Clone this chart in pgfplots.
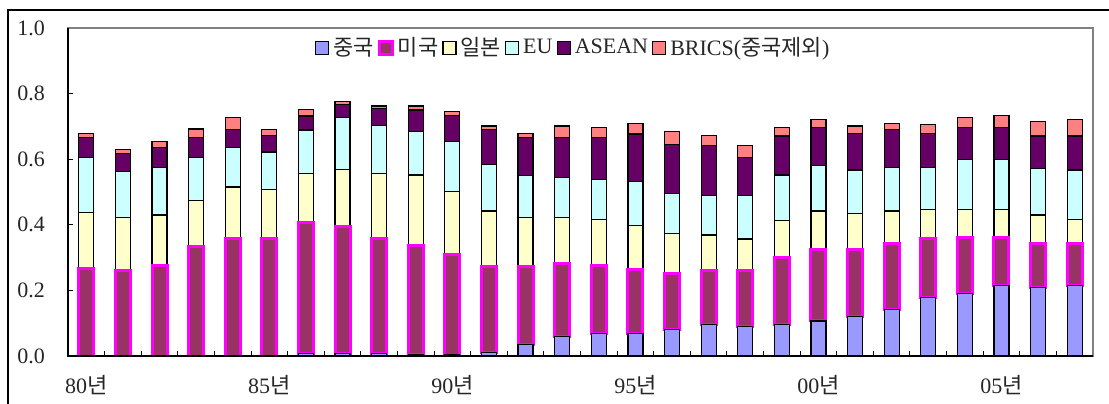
\documentclass[border=0pt]{standalone}
\usepackage{fontspec}
\setmainfont{Liberation Serif}
\newfontfamily\kr{Noto Sans CJK KR}
\usepackage{pgfplots}
\pgfplotsset{compat=1.18}
\usepackage{pgfplotstable}
\definecolor{cCN}{HTML}{9999FF}
\definecolor{cUS}{HTML}{993366}
\definecolor{cUSb}{HTML}{FF00FF}
\definecolor{cJP}{HTML}{FFFFCC}
\definecolor{cEU}{HTML}{CCFFFF}
\definecolor{cAS}{HTML}{660066}
\definecolor{cBR}{HTML}{FF8080}
\pgfplotstableread{
x cn us jp eu as br
0 0 0.267 0.170 0.168 0.061 0.013
1 0 0.260 0.163 0.139 0.056 0.012
2 0 0.277 0.153 0.144 0.061 0.018
3 0 0.333 0.140 0.132 0.061 0.026
4 0 0.357 0.158 0.120 0.056 0.037
5 0 0.357 0.151 0.114 0.051 0.018
6 0.008 0.399 0.150 0.132 0.043 0.020
7 0.008 0.386 0.175 0.158 0.040 0.008
8 0.008 0.349 0.200 0.145 0.053 0.007
9 0.005 0.333 0.214 0.132 0.066 0.012
10 0.003 0.305 0.193 0.152 0.080 0.012
11 0.010 0.262 0.170 0.143 0.106 0.010
12 0.034 0.238 0.151 0.127 0.116 0.013
13 0.059 0.224 0.140 0.121 0.122 0.035
14 0.069 0.206 0.142 0.120 0.129 0.030
15 0.069 0.196 0.133 0.134 0.145 0.032
16 0.081 0.171 0.122 0.122 0.150 0.038
17 0.095 0.165 0.109 0.120 0.152 0.031
18 0.089 0.171 0.097 0.132 0.116 0.036
19 0.095 0.205 0.113 0.139 0.119 0.025
20 0.107 0.218 0.117 0.138 0.116 0.025
21 0.120 0.205 0.110 0.132 0.112 0.022
22 0.142 0.201 0.099 0.132 0.117 0.018
23 0.179 0.178 0.090 0.127 0.105 0.028
24 0.191 0.171 0.085 0.151 0.098 0.031
25 0.216 0.146 0.085 0.151 0.098 0.037
26 0.209 0.134 0.087 0.142 0.099 0.044
27 0.216 0.127 0.074 0.150 0.104 0.050
}\data
\begin{document}
\begin{tikzpicture}
\useasboundingbox (0,0) rectangle (554.5pt,201.5pt);
\draw[line width=1pt] (4pt,-2pt) -- (4pt,196.5pt) -- (560pt,196.5pt);
\begin{axis}[
  at={(34pt,23.5pt)}, anchor=south west,
  scale only axis, width=512.5pt, height=164pt,
  ybar stacked, bar width=7.5pt,
  xmin=-0.5, xmax=27.5, ymin=0, ymax=1,
  xtick={0,5,10,15,20,25},
  xticklabels={80{\kr 년},85{\kr 년},90{\kr 년},95{\kr 년},00{\kr 년},05{\kr 년}},
  minor xtick={0.5,1.5,...,26.5},
  major x tick style={draw=none},
  ytick={0,0.2,0.4,0.6,0.8,1},
  yticklabel style={/pgf/number format/fixed, /pgf/number format/fixed zerofill, /pgf/number format/precision=1, /pgf/number format/assume math mode=true, xshift=-8pt},
  xticklabel style={yshift=-6pt},
  tick label style={font=\fontsize{11}{13}\selectfont, text=black!85},
  tick align=inside, tick pos=left,
  major tick length=2.5pt, minor tick length=2.5pt,
  tick style={black, line width=0.5pt},
  axis line style={black!50, line width=0.9pt},
  after end axis/.code={\draw[black, line width=0.9pt] (rel axis cs:0,1) -- (rel axis cs:0,0) -- (rel axis cs:1,0);},
  legend style={at={(0.494,0.939)}, anchor=center, draw=none, fill=none,
    font=\fontsize{11}{13}\selectfont, text=black!85,
    /tikz/every even column/.append style={column sep=0pt},
    inner sep=0pt},
  legend columns=-1,
  legend image code/.code={\draw[#1] (0pt,-3.25pt) rectangle (6.5pt,3.25pt);},
]
\addplot[fill=cCN, draw=black, line width=0.6pt] table[x=x,y=cn]{\data};
\addplot[fill=cUS, draw=cUSb, line width=1.5pt] table[x=x,y=us]{\data};
\addplot[fill=cJP, draw=black, line width=0.6pt] table[x=x,y=jp]{\data};
\addplot[fill=cEU, draw=black, line width=0.6pt] table[x=x,y=eu]{\data};
\addplot[fill=cAS, draw=black, line width=0.6pt] table[x=x,y=as]{\data};
\addplot[fill=cBR, draw=black, line width=0.6pt] table[x=x,y=br]{\data};
\legend{{\kr 중국},{\kr 미국},{\kr 일본},EU,ASEAN,BRICS({\kr 중국제외})}
\end{axis}
\end{tikzpicture}
\end{document}
